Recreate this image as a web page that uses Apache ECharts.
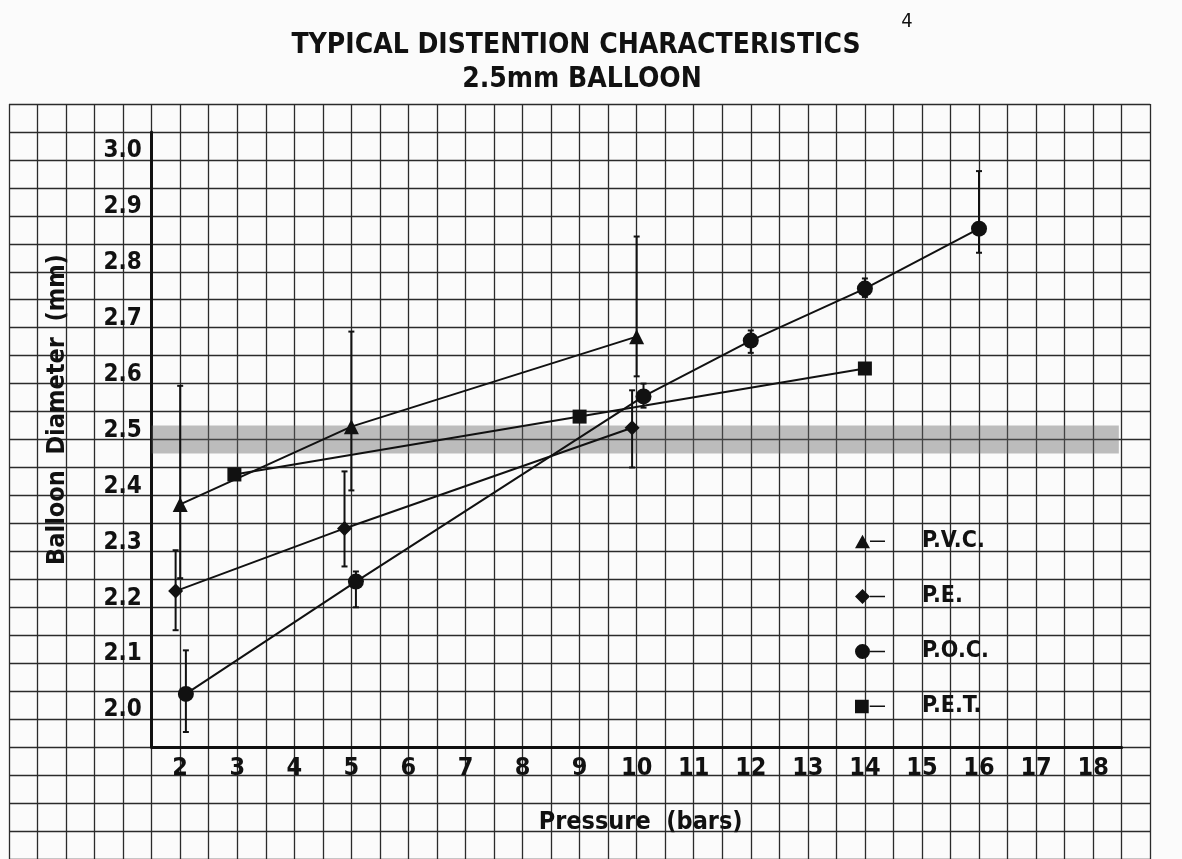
<!DOCTYPE html>
<html>
<head>
<meta charset="utf-8">
<script src="https://cdn.jsdelivr.net/npm/echarts@6/dist/echarts.min.js"></script>
<style>
  html, body { margin: 0; padding: 0; background: #fbfbfb; }
  #chart { width: 1182px; height: 859px; }
</style>
</head>
<body>
<div id="chart"></div>
<script>
// axis ticks
const xTicks = [2, 3, 4, 5, 6, 7, 8, 9, 10, 11, 12, 13, 14, 15, 16, 17, 18]
const yTicks = [2.0, 2.1, 2.2, 2.3, 2.4, 2.5, 2.6, 2.7, 2.8, 2.9, 3.0]

// P.V.C.
const pvcX = [2, 5, 10]
const pvcY = [2.384, 2.523, 2.684]
const pvcLow = [2.252, 2.409, 2.613]
const pvcHigh = [2.596, 2.693, 2.863]

// P.E.
const peX = [1.92, 4.88, 9.92]
const peY = [2.229, 2.341, 2.521]
const peLow = [2.159, 2.273, 2.45]
const peHigh = [2.302, 2.443, 2.588]

// P.O.C.
const pocX = [2.1, 5.08, 10.12, 12, 14, 16]
const pocY = [2.045, 2.246, 2.577, 2.677, 2.77, 2.877]
const pocLow = [1.977, 2.2, 2.557, 2.655, 2.755, 2.834]
const pocHigh = [2.123, 2.264, 2.6, 2.695, 2.788, 2.98]

// P.E.T.
const petX = [2.95, 9, 14]
const petY = [2.4375, 2.541, 2.627]

// nominal 2.5mm band
const bandLow = 2.475
const bandHigh = 2.525

const FONT = '"Liberation Sans Narrow", "DejaVu Sans Condensed", "Liberation Sans", sans-serif'
const INK = '#111'

// graph paper layout
const paperLeft = 9, paperTop = 104, cellW = 28.53, cellH = 27.96
const paperCols = 40, paperRows = 27
const xMin = 1.5, xMax = 18.5, yMin = 1.95, yMax = 3.05
const dataLeft = paperLeft + 5 * cellW
const dataTop = paperTop + cellH
const dataW = (xMax - xMin) * 2 * cellW
const dataH = (yMax - yMin) * 20 * cellH

const chart = echarts.init(document.getElementById('chart'))

function zip(xs, ys) {
  return xs.map((x, i) => [x, ys[i]])
}

function errBars(xs, lows, highs) {
  return {
    type: 'custom',
    xAxisIndex: 1,
    yAxisIndex: 1,
    silent: true,
    z: 3,
    renderItem: (params, api) => {
      const lo = api.coord([api.value(0), api.value(1)])
      const hi = api.coord([api.value(0), api.value(2)])
      const cap = 3
      const st = { stroke: INK, lineWidth: 2 }
      return {
        type: 'group',
        children: [
          { type: 'line', shape: { x1: lo[0], y1: lo[1], x2: hi[0], y2: hi[1] }, style: st },
          { type: 'line', shape: { x1: lo[0] - cap, y1: lo[1], x2: lo[0] + cap, y2: lo[1] }, style: st },
          { type: 'line', shape: { x1: hi[0] - cap, y1: hi[1], x2: hi[0] + cap, y2: hi[1] }, style: st },
        ],
      }
    },
    data: xs.map((x, i) => [x, lows[i], highs[i]]),
  }
}

function lineSeries(name, xs, ys, symbol, size) {
  return {
    name,
    type: 'line',
    xAxisIndex: 1,
    yAxisIndex: 1,
    data: zip(xs, ys),
    symbol,
    symbolSize: size,
    showAllSymbol: true,
    lineStyle: { color: INK, width: 2 },
    itemStyle: { color: INK, borderWidth: 0 },
    z: 4,
  }
}

// legend icons: marker on the left, short line to the right
const lineTail = ' M15,6.7 L30,6.7 L30,8.3 L15,8.3 Z'
const legendIcons = {
  'P.V.C.': 'path://M0,14.5 L7.5,1 L15,14.5 Z' + lineTail,
  'P.E.': 'path://M7.5,0 L15,7.5 L7.5,15 L0,7.5 Z' + lineTail,
  'P.O.C.': 'path://M0,7.5 A7.5,7.5 0 1,0 15,7.5 A7.5,7.5 0 1,0 0,7.5 Z' + lineTail,
  'P.E.T.': 'path://M0.5,1 L14,1 L14,14.5 L0.5,14.5 Z' + lineTail,
}

const pvc = lineSeries('P.V.C.', pvcX, pvcY, 'triangle', 15)
pvc.markArea = {
  silent: true,
  itemStyle: { color: 'rgba(100,100,100,0.42)' },
  data: [[{ coord: [xMin, bandLow] }, { coord: [18.45, bandHigh] }]],
}

chart.setOption({
  backgroundColor: '#fbfbfb',
  animation: false,
  title: [
    {
      text: 'TYPICAL DISTENTION CHARACTERISTICS',
      left: 571, top: 27, textAlign: 'center',
      textStyle: { fontFamily: FONT, fontSize: 28, fontWeight: 'bold', color: INK },
    },
    {
      text: '2.5mm BALLOON',
      left: 577, top: 61, textAlign: 'center',
      textStyle: { fontFamily: FONT, fontSize: 28, fontWeight: 'bold', color: INK },
    },
    {
      text: '4',
      left: 902, top: 7, textAlign: 'center',
      textStyle: { fontFamily: FONT, fontSize: 20, fontWeight: 'normal', color: INK },
    },
  ],
  legend: {
    orient: 'vertical',
    left: 850,
    top: 525,
    itemWidth: 30,
    itemHeight: 15,
    itemGap: 32,
    selectedMode: false,
    textStyle: { fontFamily: FONT, fontSize: 23, fontWeight: 'bold', color: INK, padding: [0, 0, 0, 32] },
    data: Object.keys(legendIcons).map((name) => ({ name, icon: legendIcons[name] })),
  },
  grid: [
    { left: paperLeft, top: paperTop, width: paperCols * cellW, height: paperRows * cellH },
    { left: dataLeft, top: dataTop, width: dataW, height: dataH },
  ],
  xAxis: [
    {
      gridIndex: 0, type: 'value', min: 0, max: paperCols, interval: 1,
      axisLine: { show: false }, axisTick: { show: false }, axisLabel: { show: false },
      splitLine: { show: true, lineStyle: { color: '#2b2b2b', width: 1.3 } },
    },
    {
      gridIndex: 1, type: 'value', min: xMin, max: xMax, interval: 0.5,
      axisLine: { show: true, onZero: false, lineStyle: { color: INK, width: 3 } },
      axisTick: { show: false },
      splitLine: { show: false },
      axisLabel: {
        margin: 9,
        fontFamily: FONT, fontSize: 25, fontWeight: 'bold', color: INK,
        formatter: (v) => (xTicks.some((t) => Math.abs(t - v) < 1e-6) ? String(Math.round(v)) : ''),
      },
      name: 'Pressure  (bars)',
      nameLocation: 'middle',
      nameGap: 63,
      nameTextStyle: { fontFamily: FONT, fontSize: 25, fontWeight: 'bold', color: INK, padding: [0, 0, 0, 8] },
    },
  ],
  yAxis: [
    {
      gridIndex: 0, type: 'value', min: 0, max: paperRows, interval: 1,
      axisLine: { show: false }, axisTick: { show: false }, axisLabel: { show: false },
      splitLine: { show: true, lineStyle: { color: '#2b2b2b', width: 1.3 } },
    },
    {
      gridIndex: 1, type: 'value', min: yMin, max: yMax, interval: 0.05,
      axisLine: { show: true, onZero: false, lineStyle: { color: INK, width: 3 } },
      axisTick: { show: false },
      splitLine: { show: false },
      axisLabel: {
        margin: 10,
        verticalAlign: 'bottom',
        lineHeight: 18,
        fontFamily: FONT, fontSize: 24, fontWeight: 'bold', color: INK,
        formatter: (v) => {
          const t = yTicks.find((t) => Math.abs(t - v) < 1e-6)
          return t === undefined ? '' : t.toFixed(1)
        },
      },
      name: 'Balloon  Diameter  (mm)',
      nameLocation: 'middle',
      nameGap: 82,
      nameTextStyle: { fontFamily: FONT, fontSize: 25, fontWeight: 'bold', color: INK, padding: [0, 0, 0, 60] },
    },
  ],
  series: [
    pvc,
    lineSeries('P.E.', peX, peY, 'diamond', 15),
    lineSeries('P.O.C.', pocX, pocY, 'circle', 16),
    lineSeries('P.E.T.', petX, petY, 'rect', 14),
    errBars(pvcX, pvcLow, pvcHigh),
    errBars(peX, peLow, peHigh),
    errBars(pocX, pocLow, pocHigh),
  ],
})

window.addEventListener('resize', () => chart.resize())
</script>
</body>
</html>
